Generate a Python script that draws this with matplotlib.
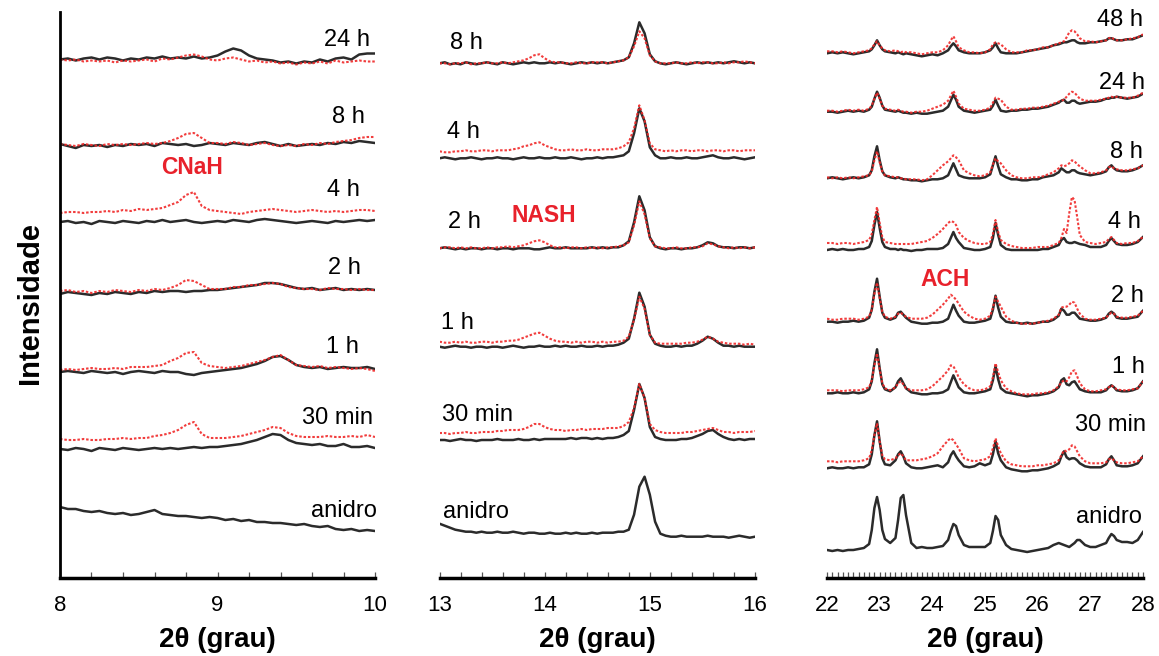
import numpy as np
import matplotlib
matplotlib.use('Agg')
import matplotlib.pyplot as plt
from matplotlib.ticker import MultipleLocator

plt.rcParams['font.family'] = ['Liberation Sans', 'DejaVu Sans']

W, H = 1159, 656

# ---- 2theta grids ----
tth_cnah = np.round(np.arange(8.0, 10.001, 0.05), 2)
tth_nash = np.round(np.arange(13.0, 16.001, 0.05), 2)
tth_ach = [22.0, 22.1, 22.2, 22.3, 22.4, 22.5, 22.6, 22.7, 22.8, 22.85,
           22.9, 22.95, 23.0, 23.05, 23.1, 23.2, 23.3, 23.35, 23.4, 23.45,
           23.5, 23.6, 23.7, 23.8, 23.9, 24.0, 24.1, 24.2, 24.3, 24.35,
           24.4, 24.45, 24.5, 24.6, 24.7, 24.8, 24.9, 25.0, 25.1, 25.15,
           25.2, 25.25, 25.3, 25.4, 25.5, 25.6, 25.7, 25.8, 25.9, 26.0,
           26.1, 26.2, 26.3, 26.4, 26.45, 26.5, 26.55, 26.6, 26.65, 26.7,
           26.75, 26.8, 26.9, 27.0, 27.1, 27.2, 27.3, 27.35, 27.4, 27.45,
           27.5, 27.6, 27.7, 27.8, 27.9, 28.0]

# ---- CNaH region (8-10) : black = reference, red = sample ----
cnah_24h_k = [0,1,-1,1,2, 0,2,1,-1,1, 0,2,1,3,1, 2,1,3,1,2, 4,8,11,9,4, 1,0,-1,-3,-2, -4,-2,-3,0,-2, 1,2,0,5,6, 6]
cnah_24h_r = [0,-1,0,-2,-1, -2,-1,-3,-1,-2, -1,0,-2,1,0, 2,4,5,3,0, -1,1,2,0,-2, -1,-3,-2,-4,-3, -5,-3,-4,-2,-4, -1,-3,-2,-1,-2, -2]
cnah_8h_k = [0,-2,-4,-1,-2, -1,-3,-1,-2,0, -1,0,-2,1,0, -1,0,-2,-1,1, 0,-1,1,0,-1, 1,2,0,-2,0, -2,-1,0,-1,1, 0,2,1,3,2, 1]
cnah_8h_r = [0,-1,-2,0,-1, -2,0,-1,0,-1, 0,1,0,1,3, 6,10,11,6,1, 1,0,2,1,-1, 0,1,-1,-2,-1, -2,0,-1,1,0, 2,3,4,6,7, 7]
cnah_4h_k = [0,1,-1,0,-2, 1,0,-1,1,0, -1,1,0,2,0, 1,2,0,-1,0, 1,0,2,1,0, 2,3,2,1,0, -1,0,1,0,-1, 1,0,1,2,1, 2]
cnah_4h_r = [9,10,10,9,10, 10,11,10,12,11, 13,12,13,14,17, 20,27,30,16,12, 11,10,9,8,10, 11,12,13,12,11, 10,11,12,11,10, 11,10,11,12,12, 11]
cnah_2h_k = [-3,-1,-2,-3,-4, -2,-3,-1,-2,-3, -1,-2,0,-1,0, 0,-1,0,0,1, 1,2,3,4,5, 6,8,8,7,5, 3,2,3,1,2, 3,1,2,1,2, 1]
cnah_2h_r = [0,1,-1,0,-2, 0,-1,1,0,-1, 1,0,2,1,3, 6,11,10,6,2, 2,2,4,4,6, 6,7,8,7,4, 3,2,2,1,3, 2,2,1,2,1, 1]
cnah_1h_k = [0,1,0,-1,1, 0,-1,0,-2,0, 1,0,-1,1,0, 0,-2,-3,-1,0, 1,2,3,4,6, 8,11,15,16,12, 7,5,4,5,3, 4,5,4,4,5, 3]
cnah_1h_r = [2,3,2,3,4, 3,3,4,3,5, 5,5,6,7,11, 14,19,20,9,6, 5,4,5,6,8, 10,12,15,17,12, 7,6,5,6,4, 5,4,3,4,3, 1]
cnah_30m_k = [0,-1,1,0,-2, 1,0,-1,1,0, -1,0,1,0,1, 0,1,2,1,2, 2,3,4,5,7, 9,12,15,14,9, 6,5,4,5,3, 3,5,2,2,3, 1]
cnah_30m_r = [10,9,9,10,9, 9,10,10,11,10, 11,11,13,14,16, 19,24,27,15,11, 11,11,12,13,15, 17,19,22,21,16, 13,12,12,12,13, 12,12,13,12,14, 12]
cnah_0_k = [24,22,22,20,19, 20,18,17,18,16, 17,19,21,17,16, 15,15,14,13,14, 13,11,12,10,11, 9,9,8,8,7, 6,7,5,4,5, 2,1,2,0,1, 0]

# ---- NASH region (13-16) ----
nash_8h_k = [0,1,-1,0,-1, 1,0,-1,0,1, 0,-1,1,0,-1, 0,1,0,1,0, 0,1,0,1,0, -1,0,1,0,1, 0,1,0,1,2, 3,6,20,41,30, 9,2,0,-1,0, 1,0,-1,0,1, 0,1,0,1,0, 1,2,1,0,1, 0]
nash_8h_r = [0,0,-1,0,0, 1,-1,0,0,1, 0,0,1,0,1, 2,3,5,8,9, 5,2,1,1,0, 0,1,0,0,1, 1,1,0,1,2, 3,6,17,32,25, 8,2,0,0,0, 1,0,0,1,0, 1,1,0,0,1, 0,1,1,2,1, 0]
nash_4h_k = [0,1,0,-1,0, 0,1,0,-1,0, 0,1,0,0,-1, 0,1,0,0,1, 0,0,1,0,0, 1,0,-1,0,0, 1,0,1,1,2, 3,7,25,50,37, 11,3,0,0,1, 0,0,1,0,0, 1,2,3,1,0, 0,1,0,-1,0, 1]
nash_4h_r = [7,6,6,7,7, 8,7,7,8,8, 7,8,8,8,9, 10,12,13,15,16, 13,11,9,8,8, 9,8,8,9,8, 8,9,9,9,10, 12,16,30,53,38, 15,9,8,7,8, 7,8,8,7,8, 8,7,8,8,7, 8,8,7,8,8, 8]
nash_2h_k = [0,1,0,-1,0, -1,0,0,-1,0, 0,-1,0,0,-1, 0,0,0,-1,-1, 0,1,0,0,1, 0,0,0,0,1, 0,1,0,1,1, 3,7,26,52,38, 11,2,0,-1,0, 0,-1,0,0,1, 3,6,5,2,1, 1,0,1,1,0, 1]
nash_2h_r = [0,1,1,0,1, 0,1,0,0,1, 0,1,1,2,1, 2,3,5,7,8, 6,3,1,1,0, 1,1,0,1,0, 1,0,1,1,2, 3,6,23,47,34, 10,2,1,0,0, 1,0,0,1,1, 2,5,4,2,1, 0,1,0,1,0, 1]
nash_1h_k = [0,-1,0,1,0, 0,-1,0,0,-1, 0,0,-1,0,1, 0,-1,0,0,1, 0,0,1,0,1, 0,0,1,0,0, 1,0,1,1,2, 4,8,28,54,40, 12,3,1,0,0, 1,0,1,1,3, 6,10,8,4,1, 1,0,1,0,0, 0]
nash_1h_r = [5,4,4,5,4, 5,4,4,5,5, 4,5,5,6,6, 7,9,11,13,14, 11,8,6,5,5, 4,5,4,5,5, 4,5,4,5,5, 6,10,27,50,38, 12,4,3,3,3, 3,3,4,4,5, 7,10,8,5,4, 3,3,3,2,3, 2]
nash_30m_k = [0,0,-1,0,1, 0,0,-1,0,0, 0,1,0,0,0, 1,0,0,1,0, 1,1,1,1,1, 2,1,2,2,1, 2,1,2,2,3, 5,9,30,56,42, 13,3,1,0,0, 0,1,1,2,4, 6,9,10,6,3, 1,0,1,0,1, 1]
nash_30m_r = [7,7,6,7,7, 8,7,7,8,8, 8,9,9,10,10, 10,11,13,16,16, 13,11,10,10,9, 10,10,11,10,11, 11,11,12,12,12, 14,18,32,56,42, 16,10,8,7,7, 7,7,8,8,9, 10,11,12,10,8, 8,7,8,8,8, 9]
nash_0_k = [13,11,9,7,6, 5,5,4,5,4, 4,5,4,4,5, 4,3,4,4,3, 3,4,3,3,4, 3,4,3,3,4, 3,4,4,4,5, 5,7,22,50,60, 42,15,3,1,0, 0,1,0,0,0, 0,1,0,0,0, -1,0,1,0,-1, 0]

# ---- ACH region (22-28) ----
ach_48h_k = [0,1,0,1,0,-1,0,1,2,4, 8,13,8,4,2,1,0,1,0,-1, 0,-1,-2,-3,-2,-1,-2,0,3,7,
             10,7,3,1,0,0,0,1,3,6, 10,5,1,0,0,0,1,2,3,4, 5,6,8,9,10,11,11,12,13,13,
             11,10,10,11,11,12,13,15,15,14, 13,13,14,14,16,18]
ach_48h_r = [2,2,1,2,1,0,1,2,3,5, 9,12,8,5,3,2,3,2,1,2, 1,1,0,-1,0,1,1,3,8,13,
             17,12,6,3,1,1,0,1,4,9, 11,10,9,4,1,1,1,3,3,4, 6,6,8,10,11,12,16,21,23,22,
             19,15,12,12,11,12,13,15,16,14, 13,13,14,15,16,19]
ach_24h_k = [0,0,-1,0,1,0,1,0,2,5, 13,20,14,6,2,1,0,1,0,-1, -1,-2,-1,-2,-2,-1,0,1,5,11,
             17,12,5,1,0,-1,0,1,2,6, 12,6,1,0,1,1,2,2,3,3, 4,5,7,9,11,12,9,9,11,11,
             9,8,9,10,10,11,13,13,14,14, 15,14,13,14,15,18]
ach_24h_r = [1,1,0,1,2,1,2,1,3,6, 13,19,13,6,3,2,1,2,1,0, 0,-1,0,0,1,3,5,7,11,16,
             21,15,8,3,2,1,1,2,4,9, 14,13,12,5,2,2,3,3,4,4, 5,6,8,10,11,12,15,18,20,19,
             16,13,11,11,11,12,13,14,15,14, 15,14,14,14,16,19]
ach_8h_k = [0,1,0,-1,0,1,0,1,3,8, 22,32,18,7,3,1,0,1,0,-1, -1,-2,-2,-3,-2,-1,-1,0,3,9,
            15,9,3,1,0,0,0,1,4,13, 22,12,4,1,-1,-1,-2,-2,-1,-1, 1,2,3,6,10,8,6,6,8,8,
            6,5,4,3,4,5,7,11,13,10, 8,7,7,8,10,13]
ach_8h_r = [1,0,1,0,1,0,1,2,3,7, 18,27,16,7,3,2,1,1,0,0, -1,-1,-1,-2,-1,3,8,13,17,20,
            23,21,18,8,5,3,2,3,6,14, 20,17,15,8,3,1,0,0,1,1, 2,4,6,10,13,12,13,15,18,17,
            14,12,8,5,5,6,8,11,12,10, 9,8,8,9,10,13]
ach_4h_k = [0,1,0,1,0,0,1,1,3,9, 25,38,22,8,3,1,1,0,1,0, 0,-1,0,0,1,1,1,2,6,12,
            18,12,8,2,1,0,0,1,3,12, 27,15,5,1,0,0,0,0,0,0, 1,1,3,5,10,12,8,7,7,8,
            7,6,5,3,3,3,5,9,12,9, 6,5,5,6,8,13]
ach_4h_r = [7,7,6,7,7,6,7,8,10,16, 30,43,27,13,8,7,6,6,6,6, 6,6,7,8,9,12,16,21,27,29,
            28,25,18,12,9,7,6,6,8,16, 30,18,10,6,4,3,2,2,2,3, 3,3,5,7,12,21,17,37,53,50,
            33,15,8,7,6,7,8,11,13,10, 7,6,7,7,9,13]
ach_2h_k = [0,0,-1,0,0,1,0,1,4,12, 30,43,25,9,4,2,4,9,10,7, 4,0,-1,-2,-2,-1,-1,0,3,10,
            17,11,6,0,-1,-1,0,1,3,12, 26,14,5,0,-1,-1,-2,-1,-2,-1, 0,0,2,6,13,11,7,7,9,9,
            6,3,2,1,1,2,4,8,10,8, 4,3,3,4,5,11]
ach_2h_r = [3,2,2,3,3,3,2,3,5,12, 28,39,24,10,5,3,5,8,9,7, 5,3,3,3,4,7,12,17,23,27,
            25,22,18,10,6,3,2,3,6,14, 25,20,15,5,1,-1,-2,-2,-2,-1, 0,1,3,7,14,15,15,17,20,19,
            13,8,3,2,2,3,4,7,9,8, 5,4,4,5,6,11]
ach_1h_k = [0,0,1,0,0,1,0,1,4,12, 30,44,25,9,4,2,6,12,15,10, 5,1,0,-1,-1,0,0,1,4,11,
            18,12,6,1,0,0,1,2,4,13, 27,14,5,1,0,-1,-2,-3,-2,-2, -1,0,2,6,13,15,9,8,11,12,
            8,4,2,1,1,1,3,6,8,6, 3,2,2,3,5,12]
ach_1h_r = [3,3,3,2,3,3,3,4,6,13, 28,40,24,10,5,3,6,10,12,9, 5,3,3,3,4,7,12,17,23,28,
            27,22,16,9,5,3,3,4,7,16, 30,21,13,5,2,0,-1,-1,-1,0, 0,1,3,7,11,13,12,16,22,23,
            17,10,4,2,2,3,4,6,8,6, 4,3,3,4,5,12]
ach_30m_k = [0,1,0,0,1,0,1,1,4,14, 33,47,27,10,4,3,8,14,17,12, 5,1,0,0,1,2,3,1,6,13,
             17,12,8,2,1,2,5,3,5,14, 27,15,8,1,-1,-2,-3,-3,-2,-2, -1,0,2,5,12,17,11,9,10,10,
             8,5,2,1,1,1,4,9,12,8, 3,2,2,3,5,12]
ach_30m_r = [7,7,6,7,7,7,7,8,10,18, 33,45,27,13,9,8,10,13,15,12, 8,8,8,9,10,12,15,22,28,30,
             28,24,20,10,8,7,8,9,12,20, 30,22,15,7,4,3,2,2,2,3, 3,4,5,8,13,18,17,19,23,22,
             17,12,7,5,5,5,6,9,10,8, 6,5,5,6,7,12]
ach_0_k = [0,-1,0,-1,0,0,1,2,6,20, 42,53,40,20,11,7,12,30,52,55, 35,7,2,3,2,2,3,4,10,19,
           26,24,15,5,3,3,3,3,7,19, 34,30,15,5,1,0,-1,-2,-1,0, 1,2,5,7,6,5,4,3,5,7,
           10,10,5,3,3,5,7,12,16,14, 10,8,8,7,10,18]

labels_cnah = ['24 h', '8 h', '4 h', '2 h', '1 h', '30 min', 'anidro']
labels_nash = ['8 h', '4 h', '2 h', '1 h', '30 min', 'anidro']
labels_ach = ['48 h', '24 h', '8 h', '4 h', '2 h', '1 h', '30 min', 'anidro']

# stacking offsets (plot units = pixels above the axis)
off_cnah = [518.5, 434, 356, 287, 206, 129, 47]
off_nash = [514.7, 419.7, 329.7, 231.3, 138, 41.3]
off_ach = [524.7, 466.3, 399.7, 328, 256.3, 184.7, 109.7, 28]

# label placement: (x in 2theta, height, ha)
lab_cnah = [(9.968, 538, 'right'), (9.937, 461, 'right'), (9.905, 388, 'right'),
            (9.911, 310, 'right'), (9.898, 231, 'right'), (9.987, 160, 'right'),
            (10.013, 67, 'right')]
lab_nash = [(13.10, 535, 'left'), (13.07, 446, 'left'), (13.08, 356, 'left'),
            (13.01, 255, 'left'), (13.02, 163, 'left'), (13.03, 66, 'left')]
lab_ach = [(28.005, 558, 'right'), (28.04, 495, 'right'), (27.99, 426, 'right'),
           (27.96, 356, 'right'), (28.02, 282, 'right'), (28.04, 211, 'right'),
           (28.06, 153, 'right'), (27.98, 61, 'right')]

panels = [
    dict(tth=tth_cnah, xlim=(8, 10), px=(60, 375), minor=0.2,
         traces=[(cnah_24h_k, cnah_24h_r), (cnah_8h_k, cnah_8h_r), (cnah_4h_k, cnah_4h_r),
                 (cnah_2h_k, cnah_2h_r), (cnah_1h_k, cnah_1h_r), (cnah_30m_k, cnah_30m_r),
                 (cnah_0_k, None)],
         offs=off_cnah, labels=labels_cnah, lab=lab_cnah,
         phase=('CNaH', 8.84, 411), left=True),
    dict(tth=tth_nash, xlim=(13, 16), px=(439.5, 755), minor=0.2,
         traces=[(nash_8h_k, nash_8h_r), (nash_4h_k, nash_4h_r), (nash_2h_k, nash_2h_r),
                 (nash_1h_k, nash_1h_r), (nash_30m_k, nash_30m_r), (nash_0_k, None)],
         offs=off_nash, labels=labels_nash, lab=lab_nash,
         phase=('NASH', 13.99, 362), left=False),
    dict(tth=tth_ach, xlim=(22, 28), px=(827, 1143), minor=0.1,
         traces=[(ach_48h_k, ach_48h_r), (ach_24h_k, ach_24h_r), (ach_8h_k, ach_8h_r),
                 (ach_4h_k, ach_4h_r), (ach_2h_k, ach_2h_r), (ach_1h_k, ach_1h_r),
                 (ach_30m_k, ach_30m_r), (ach_0_k, None)],
         offs=off_ach, labels=labels_ach, lab=lab_ach,
         phase=('ACH', 24.24, 299), left=False),
]

BLACK = '#2b2b2b'
RED = '#f02828'

fig = plt.figure(figsize=(W / 100, H / 100), dpi=100)

for p in panels:
    x0, x1 = p['px']
    ax = fig.add_axes([x0 / W, 1 - 578 / H, (x1 - x0) / W, 566 / H])
    ax.set_xlim(*p['xlim'])
    ax.set_ylim(0, 566)
    tth = np.asarray(p['tth'])
    for (k, r), off in zip(p['traces'], p['offs']):
        ax.plot(tth, np.asarray(k) + off, color=BLACK, lw=1.8, solid_joinstyle='round')
        if r is not None:
            ax.plot(tth, np.asarray(r) + off, color=RED, lw=1.5,
                    linestyle=(0, (1.2, 0.9)), alpha=0.9)
    for txt, (xx, yy, ha) in zip(p['labels'], p['lab']):
        ax.text(xx, yy, txt, ha=ha, va='center', fontsize=17, color='black')
    name, px_, py_ = p['phase']
    ax.text(px_, py_, name, ha='center', va='center', fontsize=16.5,
            fontweight='bold', color='#e8212b')

    for s in ['top', 'right']:
        ax.spines[s].set_visible(False)
    ax.spines['left'].set_visible(p['left'])
    ax.spines['left'].set_linewidth(2)
    ax.spines['bottom'].set_linewidth(2.5)
    ax.set_yticks([])
    ax.xaxis.set_major_locator(MultipleLocator(1))
    ax.xaxis.set_minor_locator(MultipleLocator(p['minor']))
    ax.tick_params(axis='x', which='both', direction='in', length=4, width=0.9,
                   color='#555555', labelsize=16, labelcolor='black', pad=12)
    ax.set_xlabel('2θ (grau)', fontsize=20, fontweight='bold', labelpad=8)
    ax.patch.set_alpha(0)

fig.text(30 / W, 1 - 303 / H, 'Intensidade', rotation=90, ha='center', va='center',
         fontsize=21, fontweight='bold')

fig.savefig('out.png', dpi=100)
